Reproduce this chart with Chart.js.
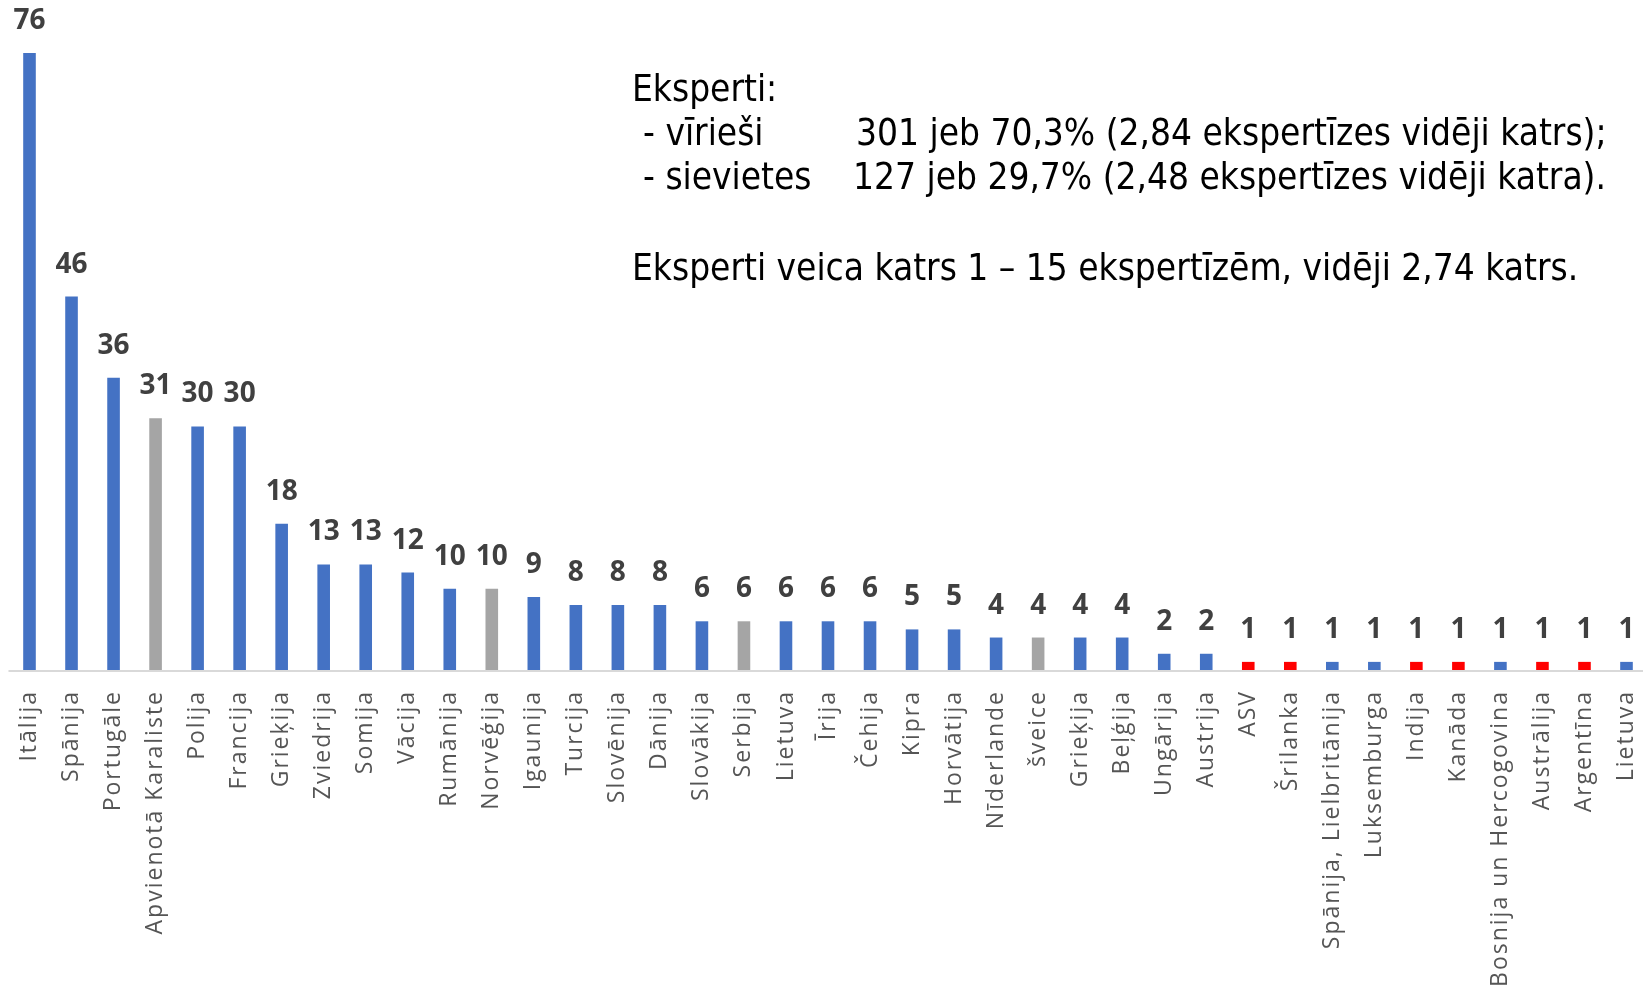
<!DOCTYPE html>
<html>
<head>
<meta charset="utf-8">
<script src="https://cdn.jsdelivr.net/npm/chart.js@4.4.1/dist/chart.umd.min.js"></script>
<style>
  html, body { margin: 0; padding: 0; background: #fff; }
  #wrap { position: relative; width: 1643px; height: 986px; }
  .note {
    position: absolute;
    font-family: 'DejaVu Sans Condensed', 'DejaVu Sans', sans-serif;
    font-stretch: condensed;
    font-size: 36.7px;
    line-height: 36px;
    color: #000;
    white-space: pre;
  }
</style>
</head>
<body>
<div id="wrap">
  <canvas id="chart" width="1643" height="986"></canvas>
  <div class="note" style="left:632px; top:71px">Eksperti:</div>
  <div class="note" style="left:643px; top:115px">- vīrieši</div>
  <div class="note" style="left:856px; top:115px">301 jeb 70,3% (2,84 ekspertīzes vidēji katrs);</div>
  <div class="note" style="left:643px; top:159px">- sievietes</div>
  <div class="note" style="left:853px; top:159px">127 jeb 29,7% (2,48 ekspertīzes vidēji katra).</div>
  <div class="note" style="left:632px; top:250px">Eksperti veica katrs 1 – 15 ekspertīzēm, vidēji 2,74 katrs.</div>
</div>
<script>
// countries, number of expertises, and group (ES / other Europe / outside Europe)
const countries = [
  'Itālija', 'Spānija', 'Portugāle', 'Apvienotā Karaliste', 'Polija', 'Francija',
  'Grieķija', 'Zviedrija', 'Somija', 'Vācija', 'Rumānija', 'Norvēģija', 'Igaunija',
  'Turcija', 'Slovēnija', 'Dānija', 'Slovākija', 'Serbija', 'Lietuva', 'Īrija',
  'Čehija', 'Kipra', 'Horvātija', 'Nīderlande', 'šveice', 'Grieķija', 'Beļģija',
  'Ungārija', 'Austrija', 'ASV', 'Šrilanka', 'Spānija, Lielbritānija', 'Luksemburga',
  'Indija', 'Kanāda', 'Bosnija un Hercogovina', 'Austrālija', 'Argentīna', 'Lietuva'
];
const counts = [
  76, 46, 36, 31, 30, 30,
  18, 13, 13, 12, 10, 10, 9,
  8, 8, 8, 6, 6, 6, 6,
  6, 5, 5, 4, 4, 4, 4,
  2, 2, 1, 1, 1, 1,
  1, 1, 1, 1, 1, 1
];
const groups = [
  'es', 'es', 'es', 'eiropa', 'es', 'es',
  'es', 'es', 'es', 'es', 'es', 'eiropa', 'es',
  'es', 'es', 'es', 'es', 'eiropa', 'es', 'es',
  'es', 'es', 'es', 'es', 'eiropa', 'es', 'es',
  'es', 'es', 'cits', 'cits', 'es', 'es',
  'cits', 'cits', 'es', 'cits', 'cits', 'es'
];

const groupColor = { es: '#4472C4', eiropa: '#A5A5A5', cits: '#FF0000' };

// letter spaced tick labels, like the Office rendering
const tickSpacing = {
  id: 'tickSpacing',
  beforeDraw(chart) { chart.ctx.letterSpacing = '2px'; },
  afterDraw(chart) { chart.ctx.letterSpacing = '0px'; }
};

// light grey base line, running across the full width
const axisLine = {
  id: 'axisLine',
  beforeDatasetsDraw(chart) {
    const { ctx, scales: { x, y } } = chart;
    const half = (x.getPixelForValue(1) - x.getPixelForValue(0)) / 2;
    const y0 = y.getPixelForValue(0);
    ctx.save();
    ctx.strokeStyle = '#D9D9D9';
    ctx.lineWidth = 2;
    ctx.beginPath();
    ctx.moveTo(x.getPixelForValue(0) - half, y0 + 1);
    ctx.lineTo(chart.width, y0 + 1);
    ctx.stroke();
    ctx.restore();
  }
};

// value above every bar
const valueLabels = {
  id: 'valueLabels',
  afterDatasetsDraw(chart) {
    const { ctx } = chart;
    const meta = chart.getDatasetMeta(0);
    ctx.save();
    ctx.letterSpacing = '0px';
    ctx.font = 'bold 28px "Open Sans"';
    ctx.fillStyle = '#404040';
    ctx.textAlign = 'center';
    ctx.textBaseline = 'alphabetic';
    meta.data.forEach((bar, i) => {
      ctx.fillText(String(counts[i]), bar.x, bar.y - 24);
    });
    ctx.restore();
  }
};

new Chart(document.getElementById('chart'), {
  type: 'bar',
  data: {
    labels: countries,
    datasets: [{
      data: counts,
      backgroundColor: groups.map(g => groupColor[g]),
      categoryPercentage: 1,
      barPercentage: 0.3,
      clip: false
    }]
  },
  options: {
    responsive: false,
    animation: false,
    layout: { padding: { top: 53, left: 29.5, right: 16.5, bottom: 0 } },
    plugins: { legend: { display: false }, tooltip: { enabled: false } },
    scales: {
      x: {
        offset: false,
        grid: { display: false, drawTicks: false },
        border: { display: false },
        ticks: {
          autoSkip: false,
          maxRotation: 90,
          minRotation: 90,
          padding: 20,
          color: '#555555',
          font: { family: 'Open Sans', size: 23 }
        },
        afterFit(s) {
          s.height = 316;
          s.paddingLeft = 0;
          s.paddingRight = 0;
        }
      },
      y: { display: false, min: 0, max: 76 }
    }
  },
  plugins: [tickSpacing, axisLine, valueLabels]
});
</script>
</body>
</html>
